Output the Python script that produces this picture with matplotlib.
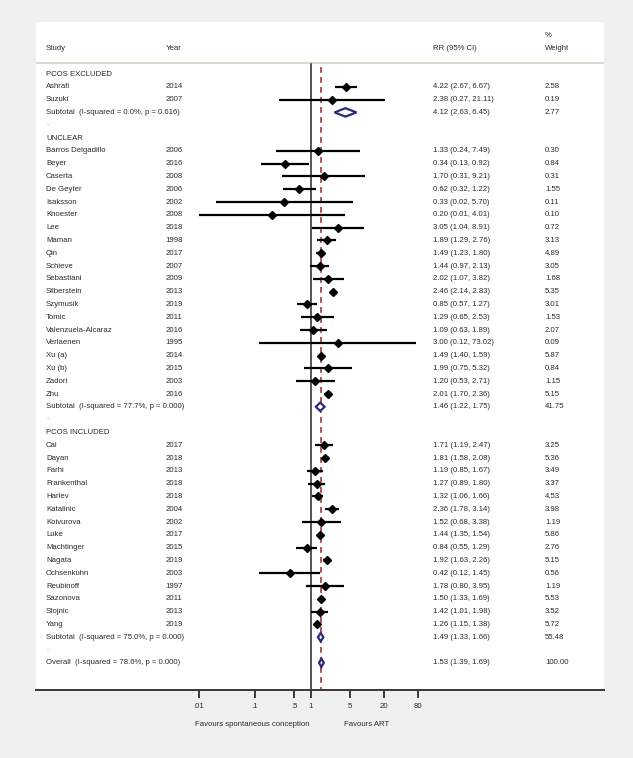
import matplotlib
matplotlib.use("Agg")
import matplotlib.pyplot as plt
import matplotlib.transforms as mtransforms
import numpy as np

# ---- data ------------------------------------------------------------------
group_names = ["PCOS EXCLUDED", "UNCLEAR", "PCOS INCLUDED"]

excl_study = ["Ashrafi", "Suzuki"]
excl_year = ["2014", "2007"]
excl_rr = [4.22, 2.38]
excl_lo = [2.67, 0.27]
excl_hi = [6.67, 21.11]
excl_wt = [2.58, 0.19]

uncl_study = ["Barros Delgadillo", "Beyer", "Caserta", "De Geyter", "Isaksson",
              "Knoester", "Lee", "Maman", "Qin", "Schieve", "Sebastiani",
              "Silberstein", "Szymusik", "Tomic", "Valenzuela-Alcaraz",
              "Verlaenen", "Xu (a)", "Xu (b)", "Zadori", "Zhu"]
uncl_year = ["2006", "2016", "2008", "2006", "2002", "2008", "2018", "1998",
             "2017", "2007", "2009", "2013", "2019", "2011", "2016", "1995",
             "2014", "2015", "2003", "2016"]
uncl_rr = [1.33, 0.34, 1.70, 0.62, 0.33, 0.20, 3.05, 1.89, 1.49, 1.44, 2.02,
           2.46, 0.85, 1.29, 1.09, 3.00, 1.49, 1.99, 1.20, 2.01]
uncl_lo = [0.24, 0.13, 0.31, 0.32, 0.02, 0.01, 1.04, 1.29, 1.23, 0.97, 1.07,
           2.14, 0.57, 0.65, 0.63, 0.12, 1.40, 0.75, 0.53, 1.70]
uncl_hi = [7.49, 0.92, 9.21, 1.22, 5.70, 4.01, 8.91, 2.76, 1.80, 2.13, 3.82,
           2.83, 1.27, 2.53, 1.89, 73.02, 1.59, 5.32, 2.71, 2.36]
uncl_wt = [0.30, 0.84, 0.31, 1.55, 0.11, 0.10, 0.72, 3.13, 4.89, 3.05, 1.68,
           5.35, 3.01, 1.53, 2.07, 0.09, 5.87, 0.84, 1.15, 5.15]

incl_study = ["Cai", "Dayan", "Farhi", "Frankenthal", "Harlev", "Katalinic",
              "Koivurova", "Luke", "Machtinger", "Nagata", "Ochsenkuhn",
              "Reubinoff", "Sazonova", "Stojnic", "Yang"]
incl_year = ["2017", "2018", "2013", "2018", "2018", "2004", "2002", "2017",
             "2015", "2019", "2003", "1997", "2011", "2013", "2019"]
incl_rr = [1.71, 1.81, 1.19, 1.27, 1.32, 2.36, 1.52, 1.44, 0.84, 1.92, 0.42,
           1.78, 1.50, 1.42, 1.26]
incl_lo = [1.19, 1.58, 0.85, 0.89, 1.06, 1.78, 0.68, 1.35, 0.55, 1.63, 0.12,
           0.80, 1.33, 1.01, 1.15]
incl_hi = [2.47, 2.08, 1.67, 1.80, 1.66, 3.14, 3.38, 1.54, 1.29, 2.26, 1.45,
           3.95, 1.69, 1.98, 1.38]
incl_wt = [3.25, 5.36, 3.49, 3.37, 4.53, 3.98, 1.19, 5.86, 2.76, 5.15, 0.56,
           1.19, 5.53, 3.52, 5.72]

# subtotals: I-squared, p, rr, lo, hi, weight
sub_i2 = [0.0, 77.7, 75.0]
sub_p = [0.616, 0.000, 0.000]
sub_rr = [4.12, 1.46, 1.49]
sub_lo = [2.63, 1.22, 1.33]
sub_hi = [6.45, 1.75, 1.66]
sub_wt = [2.77, 41.75, 55.48]

overall_i2, overall_p = 78.6, 0.000
overall_rr, overall_lo, overall_hi, overall_wt = 1.53, 1.39, 1.69, 100.00

tick_vals = [0.01, 0.1, 0.5, 1, 5, 20, 80]
tick_labels = [".01", ".1", ".5", "1", "5", "20", "80"]

groups = [
    (excl_study, excl_year, excl_rr, excl_lo, excl_hi, excl_wt),
    (uncl_study, uncl_year, uncl_rr, uncl_lo, uncl_hi, uncl_wt),
    (incl_study, incl_year, incl_rr, incl_lo, incl_hi, incl_wt),
]

# ---- styling ---------------------------------------------------------------
BG = "#eef0f1"
NAVY = "#2d2a7e"
RED = "#a83640"
DARK = "#3a3836"
TXT = "#2a2a2a"
FONT = ["Liberation Sans Narrow", "Liberation Sans", "DejaVu Sans"]
FS = 5.6
plt.rcParams["font.family"] = FONT

W, H = 633, 758
fig = plt.figure(figsize=(W / 100, H / 100), dpi=100, facecolor=BG)

# white panel, in pixels
px_left, px_right, px_top, px_bottom = 35.5, 603.5, 21.5, 690.0
ax = fig.add_axes([px_left / W, 1 - px_bottom / H,
                   (px_right - px_left) / W, (px_bottom - px_top) / H])
ax.set_facecolor("white")

# log scale: x=1 at pixel 311, 56.1 px per decade
x_one, per_dec = 311.0, 56.1
ax.set_xscale("log")
ax.set_xlim(10 ** ((px_left - x_one) / per_dec), 10 ** ((px_right - x_one) / per_dec))

# rows: first row at pixel 74, 12.8 px apart
row0, row_h = 74.0, 12.8
ax.set_ylim((px_bottom - row0) / row_h, (px_top - row0) / row_h)

tr = mtransforms.blended_transform_factory(ax.transAxes, ax.transData)


def fx(px):
    return (px - px_left) / (px_right - px_left)


col_study, col_year, col_rr, col_wt = fx(46), fx(165.5), fx(433), fx(545)


def txt(x, y, s):
    ax.text(x, y, s, transform=tr, fontsize=FS, va="center", ha="left", color=TXT)


def diamond(y, est, lo, hi):
    h = 0.33
    ax.fill([lo, est, hi, est, lo], [y, y - h, y, y + h, y], facecolor="white",
            edgecolor=NAVY, lw=1.6, zorder=5)


# header
txt(col_wt, -3, "%")
txt(col_study, -2, "Study")
txt(col_year, -2, "Year")
txt(col_rr, -2, "RR (95% CI)")
txt(col_wt, -2, "Weight")
ax.axhline((63.3 - row0) / row_h, color="#dcd4cc", lw=1.3, zorder=1)

row = 0
for gi, (names, years, rr, lo, hi, wt) in enumerate(groups):
    txt(col_study, row, group_names[gi])
    row += 1
    for n, yr, e, l, h, w in zip(names, years, rr, lo, hi, wt):
        txt(col_study, row, n)
        txt(col_year, row, yr)
        txt(col_rr, row, f"{e:.2f} ({l:.2f}, {h:.2f})")
        txt(col_wt, row, f"{w:.2f}")
        ax.plot([l, h], [row, row], color="black", lw=1.6, solid_capstyle="butt",
                zorder=4)
        ax.plot([e], [row], marker="D", color="black", markersize=4.0, zorder=6)
        row += 1
    txt(col_study, row,
        f"Subtotal  (I-squared = {sub_i2[gi]:.1f}%, p = {sub_p[gi]:.3f})")
    txt(col_rr, row, f"{sub_rr[gi]:.2f} ({sub_lo[gi]:.2f}, {sub_hi[gi]:.2f})")
    txt(col_wt, row, f"{sub_wt[gi]:.2f}")
    diamond(row, sub_rr[gi], sub_lo[gi], sub_hi[gi])
    row += 1
    ax.text(col_study, row - 0.15, ".", transform=tr, fontsize=5.5, va="center",
            ha="left", color="#555555")
    row += 1

txt(col_study, row,
    f"Overall  (I-squared = {overall_i2:.1f}%, p = {overall_p:.3f})")
txt(col_rr, row, f"{overall_rr:.2f} ({overall_lo:.2f}, {overall_hi:.2f})")
txt(col_wt, row, f"{overall_wt:.2f}")
diamond(row, overall_rr, overall_lo, overall_hi)

# null line and overall-effect line
y_bot = ax.get_ylim()[0]
ax.plot([1, 1], [(64 - row0) / row_h, y_bot], color=DARK, lw=1.2, zorder=3)
ax.plot([overall_rr, overall_rr], [(66.7 - row0) / row_h, y_bot], color=RED,
        lw=1.2, dashes=(3.5, 2.5), zorder=2)

# x axis
for side in ["top", "left", "right"]:
    ax.spines[side].set_visible(False)
ax.spines["bottom"].set_color(DARK)
ax.spines["bottom"].set_linewidth(1.4)
ax.set_yticks([])
ax.set_xticks(tick_vals)
ax.set_xticklabels(tick_labels)
ax.xaxis.set_minor_locator(matplotlib.ticker.NullLocator())
ax.tick_params(axis="x", direction="out", length=6, width=1.4, color=DARK,
               labelsize=FS, pad=3.5, labelcolor=TXT)

fig.text(252 / W, 1 - 725 / H, "Favours spontaneous conception", fontsize=FS,
         ha="center", va="center", color=TXT)
fig.text(366.7 / W, 1 - 725 / H, "Favours ART", fontsize=FS, ha="center",
         va="center", color=TXT)

fig.savefig("out.png", dpi=100, facecolor=BG)
